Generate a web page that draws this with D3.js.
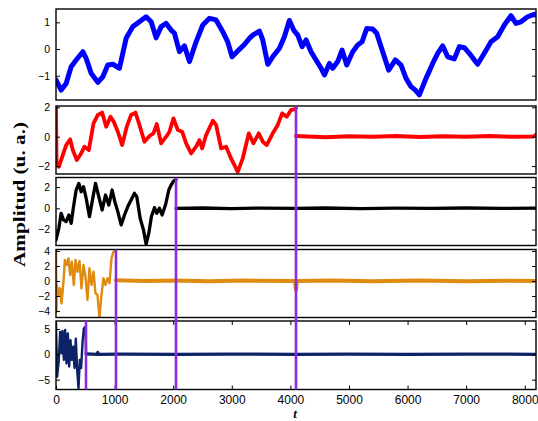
<!DOCTYPE html>
<html><head><meta charset="utf-8">
<script src="https://cdn.jsdelivr.net/npm/d3@7"></script>
<style>body{margin:0;background:#fff} svg{display:block}</style>
</head><body>
<script>
// ---- data: [t, amplitude] ----
const blueSignal = [[0,-1.16],[88,-1.54],[173,-1.29],[259,-0.66],[344,-0.41],[458,-0.1],[515,-0.35],[600,-0.91],[714,-1.25],[799,-1.04],
[884,-0.6],[970,-0.57],[1083,-0.72],[1197,0.4],[1311,0.84],[1424,1.02],[1538,1.21],[1624,1.02],[1709,0.42],[1794,0.84],
[1880,0.96],[1965,0.71],[2022,0.59],[2107,-0.1],[2192,0.12],[2278,-0.47],[2391,0.27],[2505,0.9],[2619,1.15],[2732,1.09],
[2846,0.65],[2931,0.27],[3005,-0.29],[3102,-0.07],[3216,0.17],[3301,0.4],[3358,0.52],[3472,0.67],[3529,0.34],[3614,-0.57],
[3699,-0.29],[3813,0.03],[3898,0.46],[3983,1.07],[4057,0.71],[4126,0.52],[4200,0.09],[4268,0.34],[4353,-0.1],[4438,-0.41],
[4524,-0.72],[4581,-0.97],[4666,-0.54],[4723,-0.72],[4808,-0.47],[4882,-0.04],[4962,-0.6],[5064,-0.1],[5149,0.15],[5223,0.27],
[5303,0.77],[5405,0.75],[5473,0.59],[5576,-0.1],[5678,-0.79],[5792,-0.41],[5889,-0.6],[5974,-1.1],[6059,-1.41],[6133,-1.54],
[6201,-1.72],[6315,-1.1],[6429,-0.54],[6514,-0.16],[6599,0.12],[6685,-0.29],[6798,-0.37],[6884,0.09],[6969,0.05],[7054,-0.16],
[7140,-0.41],[7196,-0.57],[7310,-0.16],[7424,0.27],[7538,0.46],[7651,0.9],[7765,1.25],[7850,0.96],[7936,1.02],[8049,1.21],
[8163,1.3],[8192,1.28]];

const redSignal = [[0,2.0],[10,-1.93],[48,-2.05],[116,-1.25],[173,-0.57],[242,-0.18],[287,-0.91],[355,-1.59],[429,-1.14],[486,-0.68],
[560,-0.91],[640,0.91],[714,1.48],[788,1.64],[856,0.68],[930,1.36],[986,1.02],[1055,0.34],[1129,-0.57],[1208,0.68],
[1282,1.48],[1356,1.64],[1424,0.8],[1510,-0.34],[1595,0.05],[1663,0.23],[1720,0.86],[1794,-0.45],[1880,0],[1936,0.34],
[2005,1.25],[2079,0.45],[2153,0.34],[2221,-0.45],[2306,-1.14],[2391,-0.68],[2448,-0.23],[2494,-0.8],[2562,0.11],[2676,1.09],
[2732,0.8],[2818,-0.8],[2903,-0.68],[2988,-1.48],[3102,-2.39],[3187,-1.48],[3290,0.23],[3369,-0.45],[3460,0.23],[3529,-0.34],
[3597,-0.57],[3699,0.23],[3785,0.8],[3859,1.59],[3938,1.36],[4012,1.82],[4069,1.86],[4096,1.95]];
const redFlat = [[4096,0.05],[4300,0.02],[4600,-0.03],[5000,0.03],[5400,0.0],[5800,0.04],[6200,-0.02],[6600,0.03],[7000,0.0],[7400,0.04],[7800,-0.01],[8150,0.02],[8192,0.12]];

const blackSignal = [[0,-2.97],[48,-1.88],[88,-0.47],[128,-1.09],[173,-1.25],[219,-0.63],[259,-1.41],[299,0.16],[344,1.72],[390,2.34],
[429,1.56],[469,2.03],[515,0.94],[571,-0.78],[617,0.63],[674,2.34],[731,1.09],[788,-0.16],[845,1.25],[901,0.31],
[958,1.72],[1004,0.63],[1055,-0.31],[1112,-1.56],[1169,-0.63],[1225,0.16],[1282,0.78],[1339,1.41],[1379,1.09],[1436,-0.94],
[1493,-2.03],[1538,-3.38],[1584,-2.34],[1629,-0.78],[1680,0.06],[1720,-0.47],[1765,0],[1811,-0.63],[1868,0.31],[1925,1.72],
[1965,2.19],[2005,2.56],[2048,2.7]];
const blackFlat = [[2048,0.0],[2500,0.03],[3000,-0.02],[3500,0.02],[4096,0.0],[4600,0.03],[5200,-0.02],[5800,0.02],[6400,0.0],[7000,0.03],[7600,-0.01],[8192,0.02]];

const orangeSignal = [[0,4.1],[8,-4.09],[14,-0.53],[43,-1.87],[71,-0.98],[94,-3.0],[128,-0.09],[151,2.8],[185,2.13],[213,3.02],
[242,0.8],[270,2.58],[304,-0.53],[333,2.8],[367,1.24],[401,2.67],[435,-0.98],[469,2.13],[503,0.58],[537,-2.53],
[571,1.69],[606,-0.53],[640,1.24],[674,-1.64],[708,-1.87],[742,-4.89],[776,-1.87],[810,0.36],[845,-0.53],[879,0.36],
[913,-0.31],[947,3.02],[981,3.91],[1024,4.0]];
const orangeFlat = [[1024,0.1],[1500,0.0],[2048,0.05],[2600,-0.05],[3200,0.05],[4080,0.0],[4096,-1.2],[4110,0.0],[4700,0.05],[5400,-0.03],[6200,0.05],[7000,-0.03],[7700,0.04],[8192,0.0]];

const navySignal = [[0,6.1],[20,-4.4],[48,-1.1],[71,4.4],[94,0.2],[111,4.6],[134,-1.1],[156,4.8],[179,-1.8],[202,4.1],
[225,-2.4],[247,2.8],[270,-1.1],[293,1.5],[316,-2.7],[338,3.1],[361,-3.1],[384,-6.7],[407,-1.1],[429,-2.7],
[452,2.2],[475,5.1],[505,5.5],[512,0.1]];
const navyFlat = [[512,0.1],[700,0.0],[713,0.35],[726,0.0],[1100,0.05],[2048,0.0],[3000,0.05],[4096,0.0],[5000,0.05],[6000,0.0],[7000,0.05],[8192,0.0]];

const yTicks = [[-1,0,1],[-2,0,2],[-2,0,2],[-4,-2,0,2,4],[-5,0,5]];
const yLimits = [[-1.91,1.5],[-2.54,2.09],[-3.5,2.9],[-4.87,4.2],[-6.94,6.57]];
const xTicks = [0,1000,2000,3000,4000,5000,6000,7000,8000];
const cutPoints = [4096,2048,1024,512];
const xLabel = "t";
const yLabel = "Amplitud (u. a.)";

// ---- layout ----
const W = 538, H = 421;
const left = 56, right = 536;
const tops = [9,106,177.5,249.5,321];
const bottoms = [100,174,245.5,317.5,389.5];
const colors = ["#0000ff","#ff0000","#000000","#e08a10","#0c2266"];
const panelSeries = [
  [[blueSignal,5]],
  [[redSignal,3.8],[redFlat,4]],
  [[blackSignal,3.3],[blackFlat,3.3]],
  [[orangeSignal,2.4],[orangeFlat,4]],
  [[navySignal,2.4],[navyFlat,3.3]]
];

const svg = d3.select("body").append("svg").attr("width",W).attr("height",H)
  .style("font-family","'Liberation Sans', Arial, Helvetica, sans-serif");
const x = d3.scaleLinear().domain([0,8192]).range([left,right]);
const fmt = d => d < 0 ? "\u2212" + Math.abs(d) : String(d);

panelSeries.forEach((series, i) => {
  const y = d3.scaleLinear().domain(yLimits[i]).range([bottoms[i], tops[i]]);
  const g = svg.append("g");
  g.append("clipPath").attr("id","clip"+i).append("rect")
    .attr("x",left).attr("y",tops[i]).attr("width",right-left).attr("height",bottoms[i]-tops[i]);
  const line = d3.line().x(d => x(d[0])).y(d => y(d[1]));
  series.forEach(([data,w]) => {
    g.append("path").datum(data).attr("d",line)
      .attr("clip-path","url(#clip"+i+")")
      .attr("fill","none").attr("stroke",colors[i]).attr("stroke-width",w)
      .attr("stroke-linejoin","round").attr("stroke-linecap","round");
  });
  const la = g.append("g").attr("transform",`translate(${left},0)`)
    .call(d3.axisLeft(y).tickValues(yTicks[i]).tickSize(-4).tickPadding(6).tickFormat(fmt));
  la.select(".domain").remove();
  la.selectAll("text").attr("font-size",10.5).attr("font-family","'Liberation Sans', Arial, sans-serif").attr("fill","#000");
  la.selectAll("line").attr("stroke","#000");
  const ra = g.append("g").attr("transform",`translate(${right},0)`)
    .call(d3.axisRight(y).tickValues(yTicks[i]).tickSize(-4).tickFormat(""));
  ra.select(".domain").remove();
  ra.selectAll("line").attr("stroke","#000");
  if (i === 4) {
    const ba = g.append("g").attr("transform",`translate(0,${bottoms[i]})`)
      .call(d3.axisBottom(x).tickValues(xTicks).tickSize(-4).tickPadding(5.5).tickFormat(d3.format("d")));
    ba.select(".domain").remove();
    ba.selectAll("text").attr("font-size",12).attr("font-family","'Liberation Sans', Arial, sans-serif").attr("fill","#000");
    ba.selectAll("line").attr("stroke","#000");
    const ta = g.append("g").attr("transform",`translate(0,${tops[i]})`)
      .call(d3.axisTop(x).tickValues(xTicks).tickSize(-4).tickFormat(""));
    ta.select(".domain").remove();
    ta.selectAll("line").attr("stroke","#000");
  }
  g.append("rect").attr("x",left).attr("y",tops[i]).attr("width",right-left).attr("height",bottoms[i]-tops[i])
    .attr("fill","none").attr("stroke","#000").attr("stroke-width",1.4);
});

// cut markers
cutPoints.forEach((c, j) => {
  svg.append("line").attr("x1",x(c)).attr("x2",x(c))
    .attr("y1",tops[j+1]).attr("y2",bottoms[4])
    .attr("stroke","#8a2be2").attr("stroke-width",2.6);
});

// axis labels
svg.append("text").attr("x",x(4096)-1).attr("y",417.5).attr("text-anchor","middle")
  .attr("font-family","'Liberation Serif', 'Times New Roman', serif").attr("font-weight","bold")
  .attr("font-style","italic").attr("font-size",13).text(xLabel);
svg.append("text").attr("transform","translate(25,194.5) rotate(-90)").attr("text-anchor","middle")
  .attr("font-family","'Liberation Serif', 'Times New Roman', serif").attr("font-weight","bold")
  .attr("font-size",17).attr("textLength",145).attr("lengthAdjust","spacingAndGlyphs").text(yLabel);
</script>
</body></html>
